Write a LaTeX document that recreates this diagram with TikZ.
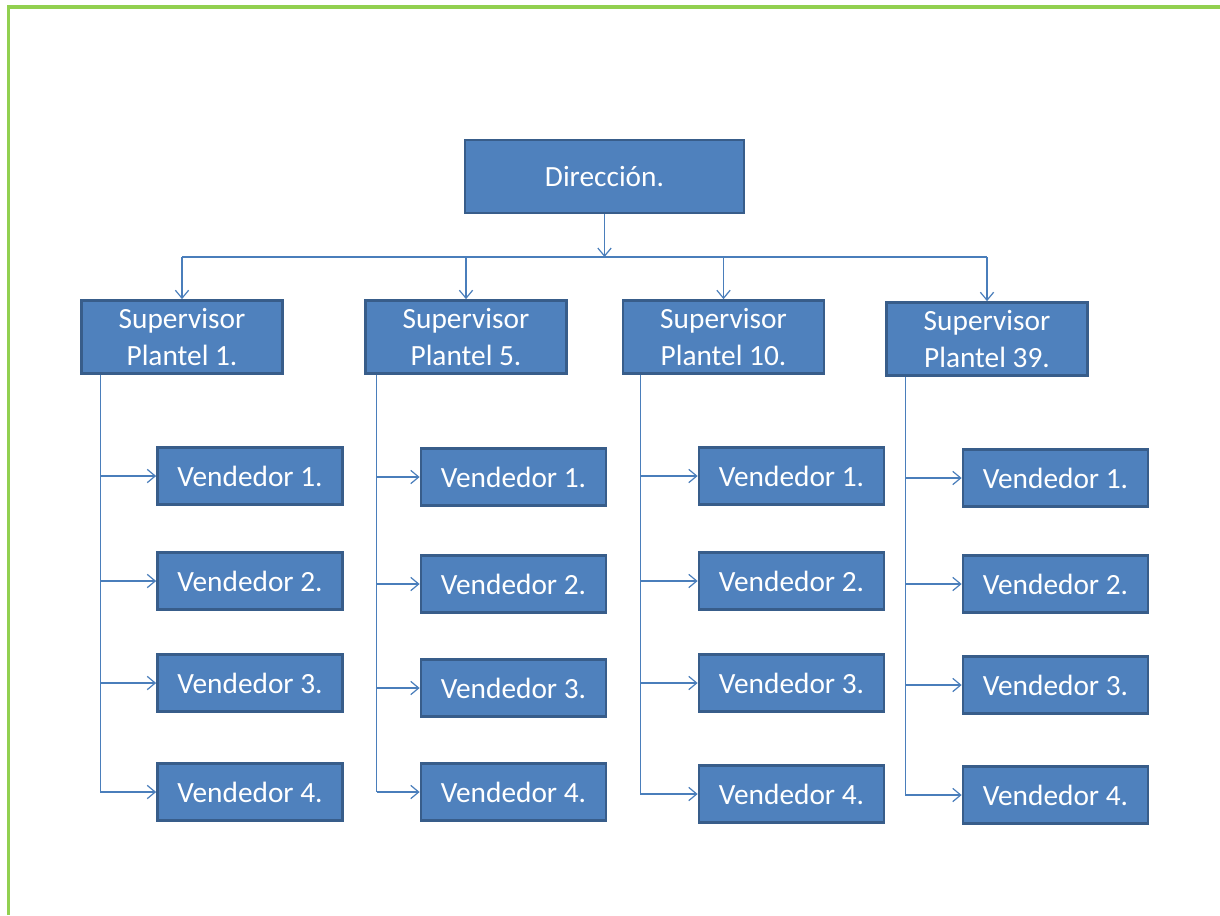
\documentclass[tikz,border=0pt]{standalone}
\usepackage{fontspec}
\setmainfont{Carlito}
\usetikzlibrary{arrows.meta, positioning, calc}
\definecolor{boxblue}{RGB}{79, 129, 189}
\definecolor{boxedge}{RGB}{56, 93, 138}
\definecolor{linkblue}{RGB}{74, 126, 187}
\definecolor{framegreen}{RGB}{146, 208, 80}

\begin{document}
\begin{tikzpicture}[
  x=0.75pt, y=-0.75pt,
  font=\fontsize{22}{28}\selectfont,
  org/.style={draw=boxedge, line width=1.8pt, fill=boxblue, text=white, align=center, inner sep=0pt},
  topbox/.style={org, minimum width=209pt, minimum height=55pt},
  supbox/.style={org, minimum width=151pt, minimum height=55pt},
  vendbox/.style={org, minimum width=139pt, minimum height=43pt},
  link/.style={draw=linkblue, line width=0.9pt},
  arr/.style={link, -{Straight Barb[length=6pt, width=10pt]}}
]
\useasboundingbox (0,0) rectangle (1220,915);
\draw[framegreen, line width=2.3pt] (8.5,915) -- (8.5,7) -- (1220,7);

\node[topbox] (dir) at (604.5,176.5) {Dirección.};

\node[supbox] (s1) at (182,337) {Supervisor\\Plantel 1.};
\node[supbox] (s5) at (466,337) {Supervisor\\Plantel 5.};
\node[supbox] (s10) at (723.5,337) {Supervisor\\Plantel 10.};
\node[supbox] (s39) at (987,339) {Supervisor\\Plantel 39.};

% vendedores por plantel
\node[vendbox] (v1a) at (250,476) {Vendedor 1.};
\node[vendbox] (v1b) at (250,581) {Vendedor 2.};
\node[vendbox] (v1c) at (250,683) {Vendedor 3.};
\node[vendbox] (v1d) at (250,792) {Vendedor 4.};

\node[vendbox] (v5a) at (513.5,477) {Vendedor 1.};
\node[vendbox] (v5b) at (513.5,584) {Vendedor 2.};
\node[vendbox] (v5c) at (513.5,688) {Vendedor 3.};
\node[vendbox] (v5d) at (513.5,792) {Vendedor 4.};

\node[vendbox] (v10a) at (791.5,476) {Vendedor 1.};
\node[vendbox] (v10b) at (791.5,581) {Vendedor 2.};
\node[vendbox] (v10c) at (791.5,683) {Vendedor 3.};
\node[vendbox] (v10d) at (791.5,794) {Vendedor 4.};

\node[vendbox] (v39a) at (1055.5,478) {Vendedor 1.};
\node[vendbox] (v39b) at (1055.5,584) {Vendedor 2.};
\node[vendbox] (v39c) at (1055.5,685) {Vendedor 3.};
\node[vendbox] (v39d) at (1055.5,795) {Vendedor 4.};

% bus horizontal
\coordinate (bus) at (604.5,257);
\draw[arr] (dir.south) -- (bus);
\draw[link] (bus -| s1) -- (bus -| s39);
\draw[arr] (bus -| s1) -- (s1.north);
\draw[arr] (bus -| s5) -- (s5.north);
\draw[arr] (bus -| s10) -- (s10.north);
\draw[arr] (bus -| s39) -- (s39.north);

% troncos
\coordinate (t1) at ([xshift=15pt]s1.south west);
\coordinate (t5) at ([xshift=9.5pt]s5.south west);
\coordinate (t10) at ([xshift=14pt]s10.south west);
\coordinate (t39) at ([xshift=15pt]s39.south west);

\draw[link] (t1) -- (t1 |- v1d);
\foreach \v in {v1a, v1b, v1c, v1d} \draw[arr] (t1 |- \v) -- (\v.west);
\draw[link] (t5) -- (t5 |- v5d);
\foreach \v in {v5a, v5b, v5c, v5d} \draw[arr] (t5 |- \v) -- (\v.west);
\draw[link] (t10) -- (t10 |- v10d);
\foreach \v in {v10a, v10b, v10c, v10d} \draw[arr] (t10 |- \v) -- (\v.west);
\draw[link] (t39) -- (t39 |- v39d);
\foreach \v in {v39a, v39b, v39c, v39d} \draw[arr] (t39 |- \v) -- (\v.west);
\end{tikzpicture}
\end{document}
